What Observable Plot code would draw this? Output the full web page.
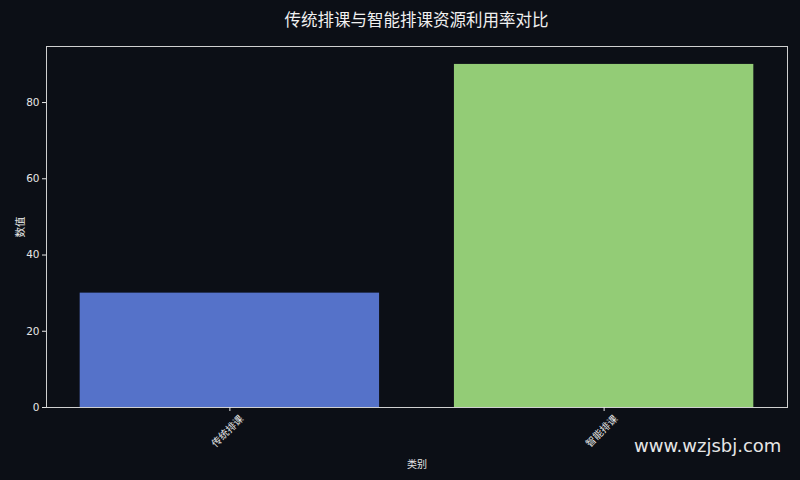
<!DOCTYPE html>
<html><head><meta charset="utf-8">
<script src="https://cdn.jsdelivr.net/npm/d3@7"></script>
<script src="https://cdn.jsdelivr.net/npm/@observablehq/plot@0.6"></script>
<style>
html,body{margin:0;padding:0;background:#0c0f16;}
#wrap{position:relative;width:800px;height:480px;overflow:hidden;background:#0c0f16;font-family:"Noto Sans CJK SC","DejaVu Sans",sans-serif;}
#title{position:absolute;left:46px;top:7px;width:741px;text-align:center;color:#f0f0f0;font-size:16.5px;}
#wm{position:absolute;left:634px;top:435px;color:#e6e6e6;font-size:18px;font-family:"DejaVu Sans",sans-serif;}
</style></head>
<body><div id="wrap"><div id="title">传统排课与智能排课资源利用率对比</div><div id="chart"></div><div id="wm">www.wzjsbj.com</div></div>
<script>
const categories = ["传统排课", "智能排课"];
const values = [30, 90];
const colors = ["#5572c9", "#93cc76"];
const yTicks = [0, 20, 40, 60, 80];
const data = categories.map((c, i) => ({category: c, value: values[i], color: colors[i]}));

const chart = Plot.plot({
  width: 800, height: 480,
  marginTop: 46, marginBottom: 73, marginLeft: 46, marginRight: 13,
  style: {background: "transparent", color: "#e6e6e6", fontSize: "10px", fontFamily: "'DejaVu Sans','Noto Sans CJK SC',sans-serif"},
  x: {domain: categories, paddingInner: 0.2, paddingOuter: 0.09, round: false, label: null},
  y: {domain: [0, 94.7], label: null},
  marks: [
    Plot.barY(data, {x: "category", y: "value", fill: "color"}),
    Plot.frame({stroke: "#d0d0d0", strokeWidth: 1}),
    Plot.axisY({ticks: yTicks, tickSize: 4, tickPadding: 3, fontSize: 10.5, label: "数值", labelAnchor: "center", labelArrow: "none", labelOffset: 30}),
    Plot.axisX({tickSize: 4, tickFormat: () => "", label: "类别", labelAnchor: "center", labelArrow: "none", labelOffset: 60}),
    Plot.text(categories, {x: d => d, text: d => d, frameAnchor: "bottom", dy: 26, rotate: -45, textAnchor: "middle", fill: "#e6e6e6", fontSize: 10, fontFamily: "'Noto Sans CJK SC',sans-serif"})
  ]
});
document.getElementById("chart").appendChild(chart);
</script></body></html>
